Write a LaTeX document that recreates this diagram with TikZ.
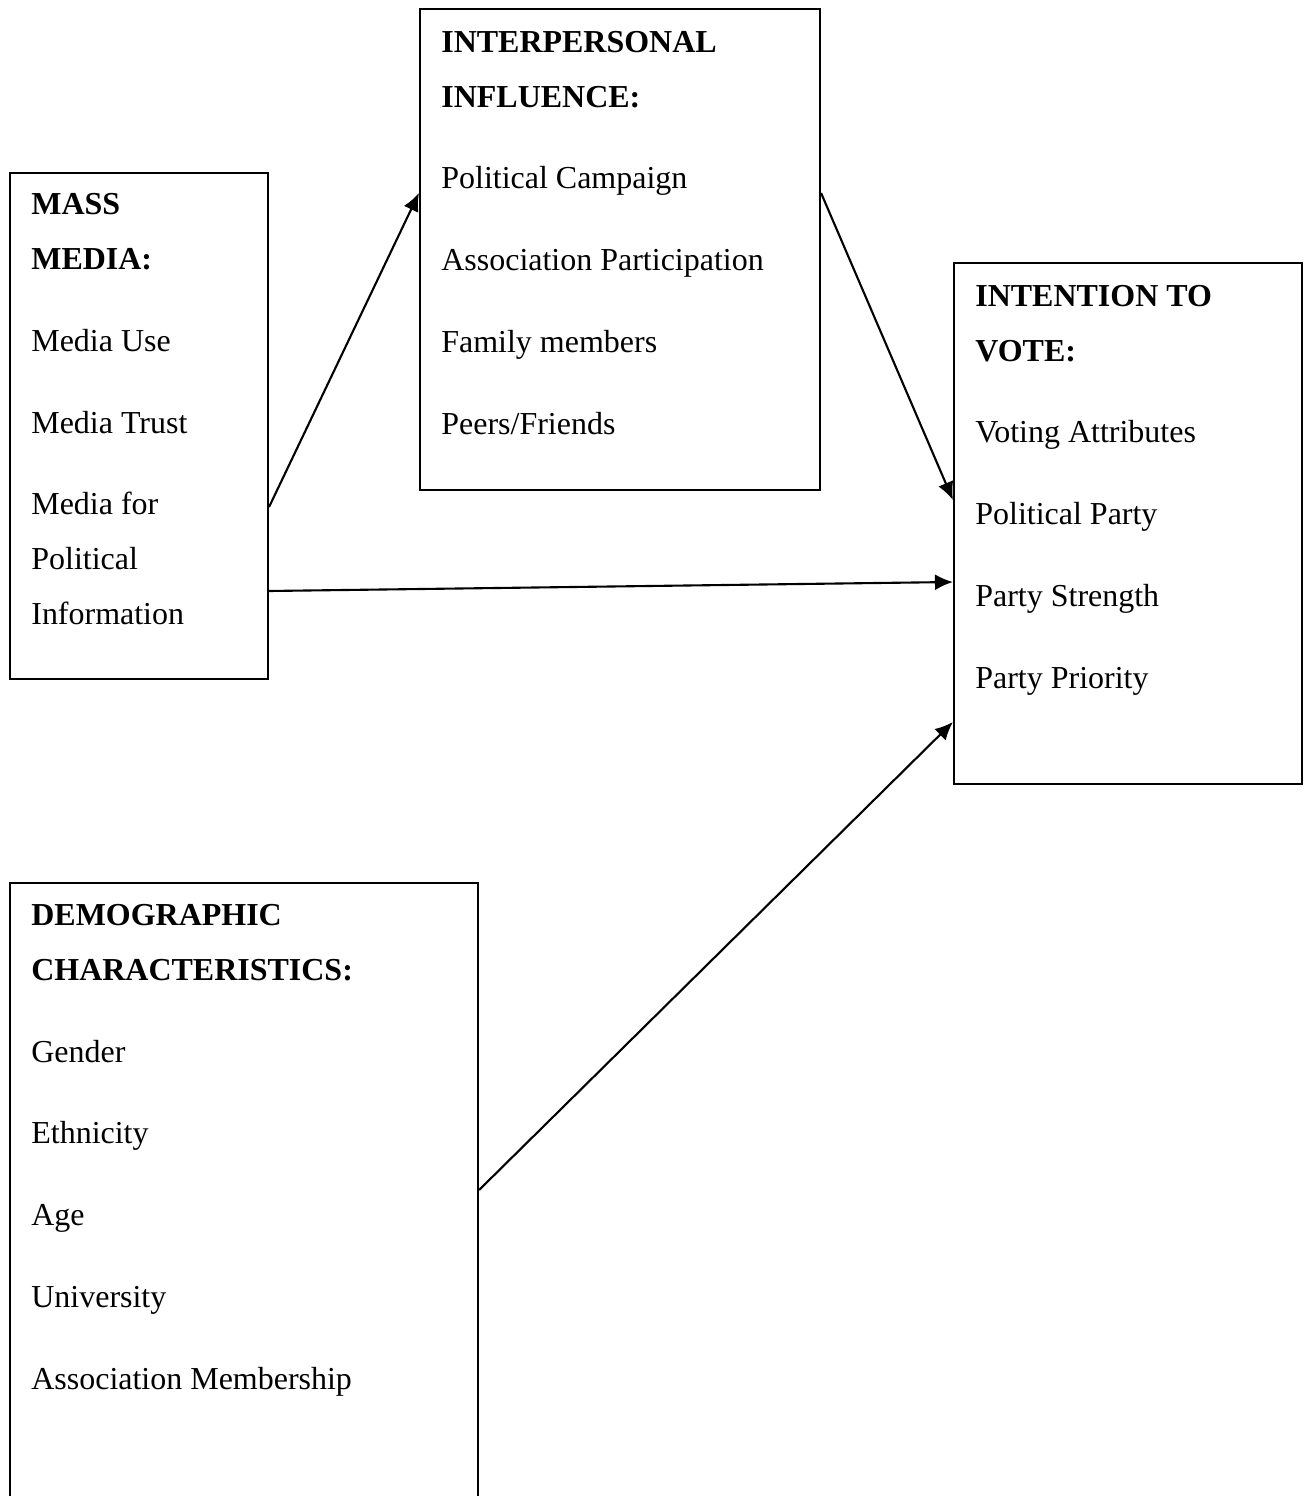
\documentclass[tikz,border=0pt]{standalone}
\usepackage{fontspec}
\setmainfont{Liberation Serif}
\usetikzlibrary{arrows.meta, positioning, fit}

\tikzset{
  box/.style={draw, line width=1.2pt, inner sep=0pt},
  txt/.style={anchor=base west, align=left, inner sep=0pt,
    font=\fontsize{18.2}{31.1}\selectfont},
  link/.style={-{Latex[length=3.6mm,width=3.2mm]}, line width=1.2pt},
}

\begin{document}
\begin{tikzpicture}[x=0.02cm, y=-0.02cm]
    \useasboundingbox (0,0) rectangle (1304,1496);

    % boxes
    \node [box, fit={(10,173) (268,679)}] (media) {};
    \node [box, fit={(420,9) (820,490)}] (social) {};
    \node [box, fit={(954,263) (1302,784)}] (vote) {};
    \node [box, fit={(10,883) (478,1530)}] (demo) {};

    % box texts (anchored at the baseline of the last line)
    \node [txt] (mediatext) at (31,624) {\textbf{MASS}\\ \textbf{MEDIA:}\\[15.4pt]
        Media Use\\[15.4pt] Media Trust\\[15.4pt] Media for\\ Political\\ Information};
    \node [txt] (socialtext) at (441,434) {\textbf{INTERPERSONAL}\\ \textbf{INFLUENCE:}\\[15.4pt]
        Political Campaign\\[15.4pt] Association Participation\\[15.4pt]
        Family members\\[15.4pt] Peers/Friends};
    \node [txt] (votetext) at (975,688) {\textbf{INTENTION TO}\\ \textbf{VOTE:}\\[15.4pt]
        Voting Attributes\\[15.4pt] Political Party\\[15.4pt]
        Party Strength\\[15.4pt] Party Priority};
    \node [txt] (demotext) at (31,1389) {\textbf{DEMOGRAPHIC}\\ \textbf{CHARACTERISTICS:}\\[15.4pt]
        Gender\\[15.4pt] Ethnicity\\[15.4pt] Age\\[15.4pt]
        University\\[15.4pt] Association Membership};

    % connectors
    \draw [link] (media.east |- 0,507) -- (social.west |- 0,193);
    \draw [link] (social.east |- 0,193) -- (vote.west |- 0,500);
    \draw [link] (media.east |- 0,591) -- (vote.west |- 0,582);
    \draw [link] (demo.east |- 0,1190) -- (vote.west |- 0,722);
\end{tikzpicture}
\end{document}
